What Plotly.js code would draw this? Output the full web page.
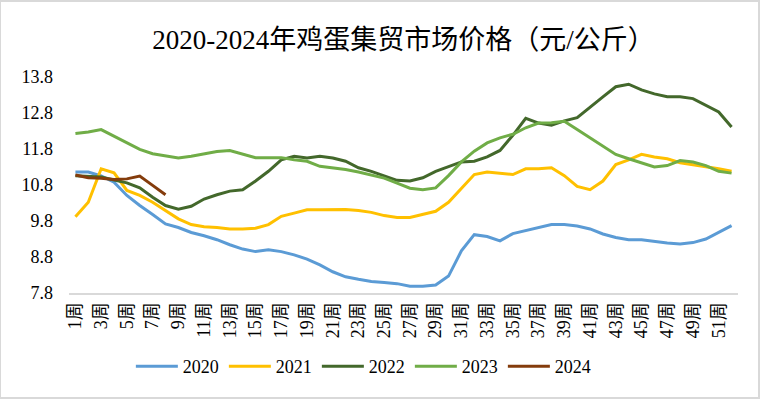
<!DOCTYPE html>
<html>
<head>
<meta charset="utf-8">
<script src="https://cdn.plot.ly/plotly-3.0.1.min.js"></script>
<style>html,body{margin:0;padding:0;background:#fff;}#chart{width:760px;height:399px;}</style>
</head>
<body>
<div id="chart"></div>
<script>
const weeks = Array.from({length: 52}, (_, i) => (i + 1) + '周');
const tickWeeks = weeks.filter((_, i) => i % 2 === 0);
const yTicks = [7.8, 8.8, 9.8, 10.8, 11.8, 12.8, 13.8];

const y2020 = [11.16,11.16,11.05,10.88,10.51,10.23,9.98,9.72,9.62,9.48,9.39,9.28,9.14,9.02,8.95,9.0,8.95,8.86,8.74,8.58,8.39,8.25,8.18,8.12,8.09,8.06,7.99,7.99,8.02,8.27,8.97,9.42,9.37,9.25,9.45,9.53,9.62,9.70,9.70,9.66,9.58,9.44,9.34,9.28,9.28,9.23,9.19,9.16,9.20,9.30,9.48,9.67];
const y2021 = [9.92,10.32,11.25,11.14,10.65,10.51,10.32,10.09,9.86,9.70,9.64,9.62,9.58,9.58,9.60,9.70,9.93,10.02,10.11,10.11,10.11,10.12,10.09,10.04,9.95,9.90,9.90,9.98,10.07,10.32,10.69,11.09,11.16,11.13,11.09,11.25,11.25,11.28,11.06,10.76,10.67,10.91,11.37,11.50,11.65,11.58,11.53,11.42,11.37,11.32,11.25,11.18];
const y2022 = [11.06,11.05,11.02,10.94,10.86,10.72,10.46,10.23,10.13,10.21,10.41,10.53,10.63,10.67,10.91,11.18,11.50,11.60,11.55,11.60,11.55,11.46,11.28,11.18,11.06,10.93,10.91,11.00,11.18,11.32,11.44,11.46,11.58,11.76,12.18,12.65,12.52,12.46,12.58,12.67,12.97,13.25,13.53,13.60,13.44,13.33,13.25,13.25,13.20,13.02,12.83,12.41];
const y2023 = [12.23,12.27,12.34,12.15,11.98,11.79,11.67,11.60,11.55,11.60,11.67,11.73,11.76,11.67,11.56,11.56,11.56,11.50,11.46,11.32,11.28,11.23,11.16,11.08,10.99,10.85,10.71,10.67,10.72,11.06,11.44,11.74,11.97,12.11,12.21,12.39,12.52,12.53,12.57,12.34,12.11,11.87,11.65,11.53,11.41,11.30,11.34,11.48,11.44,11.34,11.18,11.13];
const y2024 = [11.08,11.00,10.99,10.95,10.97,11.05,10.79,10.53];

const seriesNames = ['2020','2021','2022','2023','2024'];
const seriesValues = [y2020, y2021, y2022, y2023, y2024];
const colors = ['#5B9BD5','#FFC000','#43682B','#70AD47','#843C0C'];

const traces = seriesNames.map((name, i) => ({
  x: weeks.slice(0, seriesValues[i].length),
  y: seriesValues[i],
  name: name,
  type: 'scatter',
  mode: 'lines',
  line: {color: colors[i], width: 3, shape: 'linear'},
  hoverinfo: 'x+y+name'
}));

const font = 'Liberation Serif, Times New Roman, Noto Sans CJK SC, serif';

const layout = {
  width: 760, height: 399,
  margin: {l: 69, r: 22, t: 77, b: 106, pad: 0},
  paper_bgcolor: '#ffffff',
  plot_bgcolor: '#ffffff',
  title: {
    text: '2020-2024年鸡蛋集贸市场价格（元/公斤）',
    font: {family: font, size: 27, color: '#000'},
    x: 0.5, xanchor: 'center', y: 0.9, yanchor: 'middle', xref: 'paper', yref: 'container'
  },
  xaxis: {
    type: 'category',
    categoryorder: 'array', categoryarray: weeks,
    range: [-0.5, 51.5],
    tickmode: 'array', tickvals: tickWeeks, ticktext: tickWeeks,
    tickangle: -90,
    tickfont: {family: font, size: 18, color: '#000'},
    showgrid: false, zeroline: false,
    showline: true, linecolor: '#d9d9d9', linewidth: 2,
    ticks: '', fixedrange: true
  },
  yaxis: {
    range: [7.8, 13.8],
    tickmode: 'array', tickvals: yTicks, ticktext: yTicks.map(v => v.toFixed(1)),
    tickfont: {family: font, size: 18, color: '#000'},
    showgrid: false, zeroline: false, showline: false,
    ticks: '', ticklabelstandoff: 15, fixedrange: true
  },
  legend: {
    orientation: 'h', x: 0.44, xanchor: 'center', y: -0.34, yanchor: 'middle',
    font: {family: font, size: 18, color: '#000'},
    itemwidth: 42, tracegroupgap: 0
  },
  shapes: [{
    type: 'rect', xref: 'paper', yref: 'paper',
    x0: -69/669, x1: 1 + 21/669, y0: -105/216, y1: 1 + 76/216,
    line: {color: '#d9d9d9', width: 2}, fillcolor: 'rgba(0,0,0,0)'
  }],
  showlegend: true
};

Plotly.newPlot('chart', traces, layout, {displayModeBar: false, staticPlot: false});
</script>
</body>
</html>
